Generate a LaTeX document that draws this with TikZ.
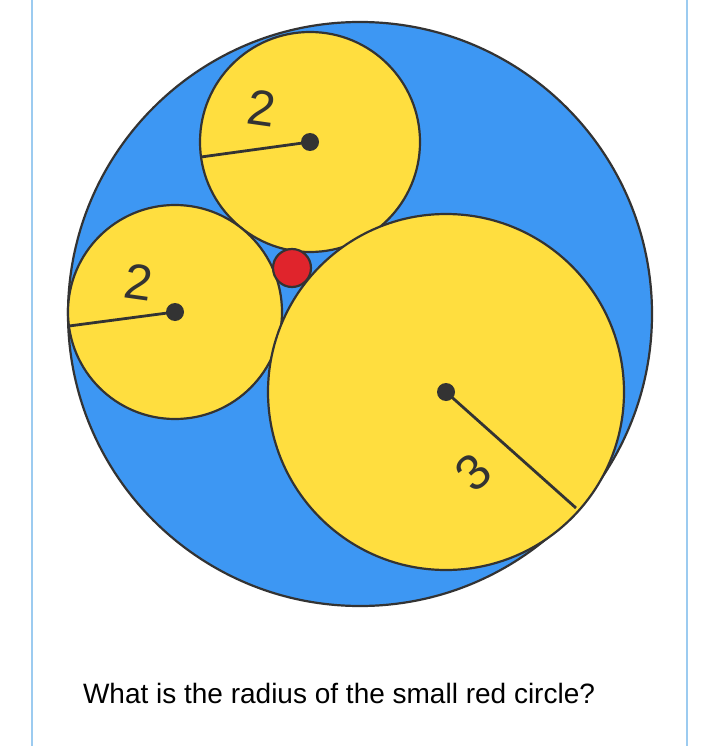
\documentclass[tikz,border=0pt]{standalone}
\usepackage{fontspec}
\setmainfont{Liberation Sans}
\definecolor{bl}{HTML}{3D97F3}
\definecolor{yl}{HTML}{FFDE3F}
\definecolor{rd}{HTML}{E0242C}
\definecolor{dk}{HTML}{333333}
\definecolor{side}{HTML}{9CCBF0}
\begin{document}
\begin{tikzpicture}[x=1pt,y=-1pt,
  circ/.style={draw=dk,line width=2.2pt},
  rad/.style={draw=dk,line width=2.8pt},
  dot/.style={circle,fill=dk,inner sep=0pt,minimum size=18pt},
  num/.style={font=\fontsize{50}{50}\selectfont,text=dk}]
\useasboundingbox (0,0) rectangle (719,746);
\fill[white] (0,0) rectangle (719,746);
\draw[side,line width=1.5pt] (32,0) -- (32,746) (687,0) -- (687,746);
\filldraw[circ,fill=bl] (360,314) circle[radius=292];
\filldraw[circ,fill=yl] (310,142) circle[radius=110];
\filldraw[circ,fill=yl] (175,312) circle[radius=107];
\filldraw[circ,fill=yl] (446,392) circle[radius=178];
\filldraw[circ,fill=rd] (292,268) circle[radius=19];
\node[dot] (c1) at (310,142) {};
\node[dot] (c2) at (175,312) {};
\node[dot] (c3) at (446,392) {};
\coordinate (e1) at (201,157);
\coordinate (e2) at (69,326);
\coordinate (e3) at (576,508);
\draw[rad] (c1.center) -- (e1);
\draw[rad] (c2.center) -- (e2);
\draw[rad] (c3.center) -- (e3);
\node[num,rotate=-8] (l1) at (262,108) {2};
\node[num,rotate=-8] (l2) at (139,282) {2};
\node[num,rotate=42] (l3) at (473,472) {3};
\node[font=\fontsize{28}{28}\selectfont,text=black] (q) at (339,693) {What is the radius of the small red circle?};
\end{tikzpicture}
\end{document}
